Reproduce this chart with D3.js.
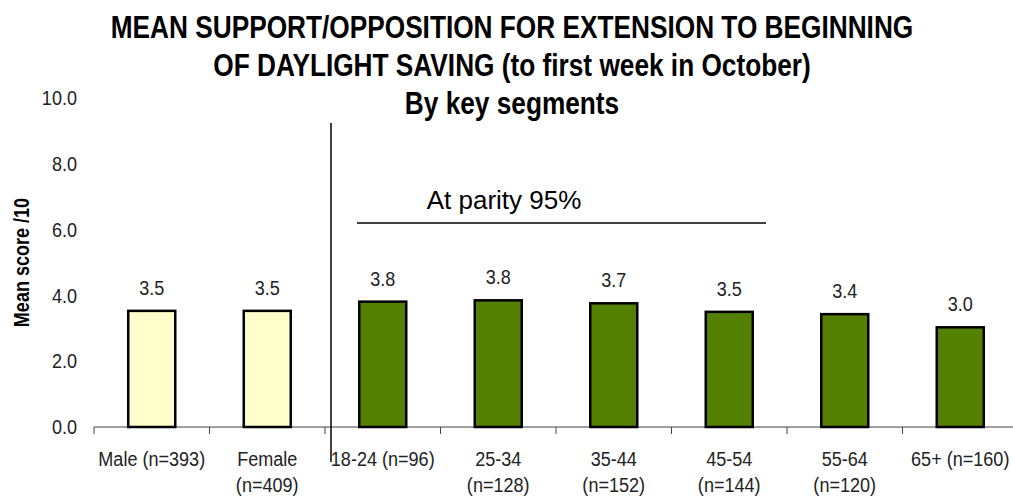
<!DOCTYPE html>
<html>
<head>
<meta charset="utf-8">
<script src="https://cdn.jsdelivr.net/npm/d3@7"></script>
<style>
  body { margin: 0; background: #fff; }
  svg { display: block; }
  text { font-family: "Liberation Sans", Arial, sans-serif; }
</style>
</head>
<body>
<script>
/*
* Mean support/opposition for extension to beginning of daylight saving,
* drawn as a bar chart by key segments.
*/

// categories, split over one or two label lines
var categories = ["Male (n=393)", "Female|(n=409)", "18-24 (n=96)", "25-34|(n=128)",
                  "35-44|(n=152)", "45-54|(n=144)", "55-64|(n=120)", "65+ (n=160)"];

// segment each category belongs to (used for bar colour)
var segments = ["gender", "gender", "age", "age", "age", "age", "age", "age"];

var scores = [3.53, 3.53, 3.81, 3.85, 3.76, 3.50, 3.43, 3.03];
var scoreLabels = ["3.5", "3.5", "3.8", "3.8", "3.7", "3.5", "3.4", "3.0"];

// y axis ticks
var yTicks = [0, 2, 4, 6, 8, 10];

// title lines
var titleLines = ["MEAN SUPPORT/OPPOSITION FOR EXTENSION TO BEGINNING",
                  "OF DAYLIGHT SAVING (to first week in October)",
                  "By key segments"];

var width = 1013;
var height = 499;

// no narrow font installed, so squeeze Liberation Sans horizontally
function narrow(cx, k) {
  return "translate(" + cx + ",0) scale(" + k + ",1) translate(" + (-cx) + ",0)";
}

// scales
var yScale = d3.scaleLinear()
  .domain([0, 10])
  .range([427, 98]);

var xScale = d3.scaleBand()
  .domain(categories)
  .range([94, 1018])
  .paddingInner(0.593)
  .paddingOuter(0.2965);

var colorScale = d3.scaleOrdinal()
  .domain(["gender", "age"])
  .range(["#ffffcc", "#538000"]);

var svg = d3.select("body")
  .append("svg")
  .attr("width", width)
  .attr("height", height);

// title
svg.append("text")
  .attr("text-anchor", "middle")
  .attr("transform", narrow(512, 0.82))
  .style("font-size", "32px")
  .style("font-weight", "bold")
  .style("fill", "#000")
  .selectAll("tspan")
  .data(titleLines)
  .enter()
  .append("tspan")
  .attr("x", 512)
  .attr("y", function(d, i) { return 38 + i * 38; })
  .text(function(d) { return d; });

// y tick labels (no axis line in the original)
var yAxis = d3.axisLeft(yScale)
  .tickValues(yTicks)
  .tickSize(0)
  .tickPadding(0)
  .tickFormat(d3.format(".1f"));

var yAxisG = svg.append("g")
  .attr("transform", "translate(77,0)")
  .call(yAxis);
yAxisG.select(".domain").remove();
yAxisG.selectAll("text")
  .attr("transform", "scale(0.86,1)")
  .style("font-family", "'Liberation Sans', Arial, sans-serif")
  .style("font-size", "21px")
  .style("fill", "#222");

// y axis title
svg.append("text")
  .attr("transform", "translate(29," + yScale(5) + ") rotate(-90) scale(0.82,1)")
  .attr("text-anchor", "middle")
  .style("font-size", "22px")
  .style("font-weight", "bold")
  .style("fill", "#000")
  .text("Mean score /10");

// x axis line with ticks on category boundaries
var gap = xScale.step() - xScale.bandwidth();
svg.append("line")
  .attr("x1", 94)
  .attr("x2", width)
  .attr("y1", yScale(0))
  .attr("y2", yScale(0))
  .style("stroke", "#808080")
  .style("stroke-width", 1.5);

svg.selectAll(".boundary")
  .data(categories)
  .enter()
  .append("line")
  .attr("class", "boundary")
  .attr("x1", function(d) { return xScale(d) - gap / 2; })
  .attr("x2", function(d) { return xScale(d) - gap / 2; })
  .attr("y1", yScale(0))
  .attr("y2", yScale(0) + 7)
  .style("stroke", "#444")
  .style("stroke-width", 1);

// bars
svg.selectAll(".bar")
  .data(scores)
  .enter()
  .append("rect")
  .attr("class", "bar")
  .attr("x", function(d, i) { return xScale(categories[i]); })
  .attr("y", function(d) { return yScale(d); })
  .attr("width", xScale.bandwidth())
  .attr("height", function(d) { return yScale(0) - yScale(d); })
  .style("fill", function(d, i) { return colorScale(segments[i]); })
  .style("stroke", "#000")
  .style("stroke-width", 2.5);

// value labels
svg.selectAll(".value")
  .data(scores)
  .enter()
  .append("text")
  .attr("class", "value")
  .attr("x", function(d, i) { return xScale(categories[i]) + xScale.bandwidth() / 2; })
  .attr("y", function(d) { return yScale(d) - 16; })
  .attr("transform", function(d, i) {
    return narrow(xScale(categories[i]) + xScale.bandwidth() / 2, 0.86);
  })
  .attr("text-anchor", "middle")
  .style("font-size", "21px")
  .style("fill", "#222")
  .text(function(d, i) { return scoreLabels[i]; });

// category labels
var xLabels = svg.selectAll(".xlabel")
  .data(categories)
  .enter()
  .append("text")
  .attr("class", "xlabel")
  .attr("transform", function(d) {
    return narrow(xScale(d) + xScale.bandwidth() / 2, 0.86);
  })
  .attr("text-anchor", "middle")
  .style("font-size", "21px")
  .style("fill", "#222");

xLabels.selectAll("tspan")
  .data(function(d) {
    return d.split("|").map(function(s) { return {cat: d, line: s}; });
  })
  .enter()
  .append("tspan")
  .attr("x", function(d) { return xScale(d.cat) + xScale.bandwidth() / 2; })
  .attr("y", function(d, i) { return yScale(0) + 39 + i * 26; })
  .text(function(d) { return d.line; });

// divider between gender and age segments
svg.append("line")
  .attr("x1", 331)
  .attr("x2", 331)
  .attr("y1", 123)
  .attr("y2", 462)
  .style("stroke", "#000")
  .style("stroke-width", 1.5);

// parity bracket over the first four age groups
svg.append("line")
  .attr("x1", 357)
  .attr("x2", 766)
  .attr("y1", 223)
  .attr("y2", 223)
  .style("stroke", "#000")
  .style("stroke-width", 1.5);

svg.append("text")
  .attr("x", 504)
  .attr("y", 209)
  .attr("text-anchor", "middle")
  .style("font-size", "26px")
  .style("fill", "#000")
  .text("At parity 95%");
</script>
</body>
</html>
